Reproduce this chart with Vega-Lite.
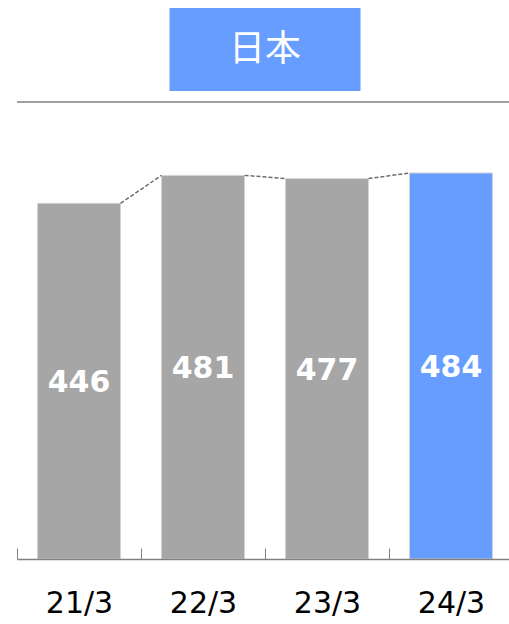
{
  "$schema": "https://vega.github.io/schema/vega-lite/v6.json",
  "padding": {"left": 16, "top": 8, "right": 0, "bottom": 0},
  "config": {"view": {"stroke": null}, "font": "DejaVu Sans"},
  "spacing": 10,
  "center": true,
  "vconcat": [
    {
      "width": 191,
      "height": 83,
      "view": {"fill": "#669dff", "stroke": null},
      "data": {"values": [{"label": "日本"}]},
      "mark": {"type": "text", "color": "white", "fontSize": 36, "font": "Noto Sans CJK JP", "baseline": "middle", "align": "center"},
      "encoding": {"text": {"field": "label"}}
    },
    {
      "width": 493,
      "height": 457,
      "resolve": {"scale": {"y": "independent"}},
      "layer": [
        {
          "layer": [
            {
              "data": {"values": [{"top": 573}]},
              "mark": {"type": "rule", "color": "#808080", "strokeWidth": 1.5},
              "encoding": {"y": {"field": "top", "type": "quantitative", "scale": {"domain": [0, 573], "nice": false}, "axis": null}}
            },
            {
              "data": {"values": [
                {"period": "21/3", "value": 446, "group": "past"},
                {"period": "22/3", "value": 481, "group": "past"},
                {"period": "23/3", "value": 477, "group": "past"},
                {"period": "24/3", "value": 484, "group": "current"}
              ]},
              "mark": {"type": "bar", "stroke": "#d4d4d4", "strokeWidth": 1},
              "encoding": {
                "x": {"field": "period", "type": "nominal", "sort": null,
                  "scale": {"domain": ["21/3", "22/3", "23/3", "24/3"], "range": [0, 496], "paddingInner": 0.33, "paddingOuter": 0.165},
                  "axis": {"title": null, "labelAngle": 0, "labelFontSize": 30, "labelColor": "black", "labelPadding": 40,
                    "ticks": true, "domainColor": "#808080", "domainWidth": 1.5, "tickColor": "#808080", "tickSize": -11, "tickWidth": 1,
                    "tickBand": "center", "tickOffset": -62, "labelOffset": 62, "zindex": 1}},
                "y": {"field": "value", "type": "quantitative", "scale": {"domain": [0, 573], "nice": false}, "axis": null},
                "color": {"field": "group", "type": "nominal", "scale": {"domain": ["past", "current"], "range": ["#a6a6a6", "#669dff"]}, "legend": null}
              }
            },
            {
              "data": {"values": [
                {"a": "21/3", "b": "22/3", "va": 446, "vb": 481},
                {"a": "22/3", "b": "23/3", "va": 481, "vb": 477},
                {"a": "23/3", "b": "24/3", "va": 477, "vb": 484}
              ]},
              "mark": {"type": "rule", "color": "#6e6e6e", "strokeWidth": 1.5, "strokeDash": [4, 2]},
              "encoding": {
                "x": {"field": "a", "type": "nominal", "bandPosition": 1},
                "x2": {"field": "b", "bandPosition": 0},
                "y": {"field": "va", "type": "quantitative"},
                "y2": {"field": "vb"}
              }
            }
          ]
        },
        {
          "data": {"values": [
            {"period": "21/3", "value": 446},
            {"period": "22/3", "value": 481},
            {"period": "23/3", "value": 477},
            {"period": "24/3", "value": 484}
          ]},
          "mark": {"type": "text", "color": "white", "fontSize": 30, "fontWeight": "bold", "baseline": "middle", "dy": 2},
          "encoding": {
            "x": {"field": "period", "type": "nominal"},
            "y": {"field": "value", "type": "quantitative", "scale": {"domain": [0, 1146], "nice": false}, "axis": null},
            "text": {"field": "value", "type": "quantitative"}
          }
        }
      ]
    }
  ]
}
